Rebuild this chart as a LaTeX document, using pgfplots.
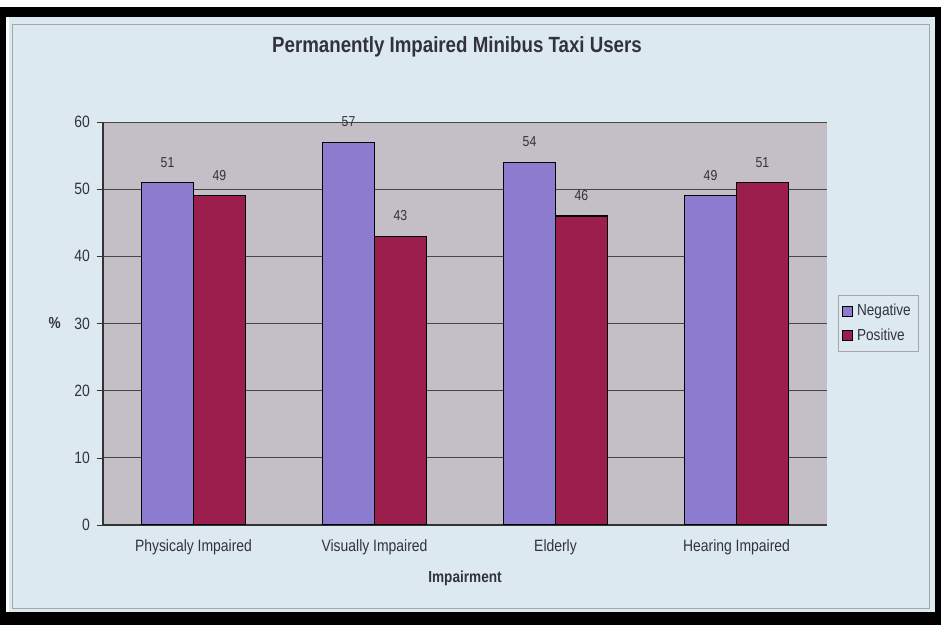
\documentclass[border=0pt]{standalone}
\usepackage{pgfplots}
\pgfplotsset{compat=1.18}
\usepackage{fontspec}
\setmainfont{Liberation Sans}[FakeStretch=0.85]
\definecolor{chartbg}{RGB}{221,233,241}
\definecolor{plotbg}{RGB}{196,190,198}
\definecolor{negc}{RGB}{140,124,208}
\definecolor{posc}{RGB}{155,30,76}
\definecolor{txt}{RGB}{50,50,60}
\begin{document}
\begin{tikzpicture}[x=1pt,y=1pt]
% whole picture: px (x,y) -> ((x-103)/2, (525-y)/2)
\fill[white] (-51.5,-50) rectangle (419,262.5);
\fill[chartbg] (-47,-44) rectangle (416,254);
\draw[gray!70,line width=0.5pt] (-45,-42) rectangle (413,250);
\fill[black] (-51.5,254) rectangle (419,259);
\fill[black] (-51.5,-50) rectangle (419,-43.5);
\fill[black] (-51.5,-50) rectangle (-48.5,259);
\fill[black] (416,-50) rectangle (419,259);
\begin{axis}[
  at={(0,0)}, anchor=south west,
  scale only axis, width=362pt, height=201.5pt,
  xmin=-0.5, xmax=3.5, ymin=0, ymax=60,
  /pgf/number format/assume math mode=true,
  axis background/.style={fill=plotbg},
  axis line style={draw=gray!40!black, line width=0.6pt},
  axis x line*=bottom, axis y line*=left,
  xtick={0,1,2,3},
  xticklabels={Physicaly Impaired,Visually Impaired,Elderly,Hearing Impaired},
  ytick={0,10,...,60},
  extra x ticks={-0.5,0.5,1.5,2.5,3.5},
  extra x tick labels={},
  extra x tick style={major tick length=3pt, tick align=outside, grid=none},
  major x tick style={draw=none},
  major tick length=3pt, tick align=outside,
  ytick style={draw=gray!40!black},
  ymajorgrids, grid style={draw=gray!55!black, line width=0.4pt},
  tick label style={font=\fontsize{8.2}{9}\selectfont, text=txt},
  xticklabel style={yshift=-1pt},
  xlabel={\bfseries Impairment}, xlabel style={font=\fontsize{8}{9}\selectfont, text=txt, yshift=5pt},
  ylabel={\%}, ylabel style={font=\fontsize{8}{9}\selectfont\bfseries, text=txt, rotate=-90, yshift=0pt},
  title={\bfseries Permanently Impaired Minibus Taxi Users},
  title style={font=\fontsize{11}{12}\selectfont, text=txt, yshift=23pt, xshift=-4pt},
  ybar, bar width=0.287,
  nodes near coords,
  nodes near coords style={font=\fontsize{7.2}{8}\selectfont, text=txt, yshift=4pt},
  legend style={at={(1.015,0.5)}, anchor=west, fill=chartbg, draw=gray!70,
    font=\fontsize{8}{9}\selectfont, text=txt, row sep=1pt, inner sep=2pt,
    legend cell align=left},
  legend image code/.code={\draw[#1, draw=black, line width=0.4pt] (0pt,-2.5pt) rectangle (5pt,2.5pt);},
]
\addplot[fill=negc, draw=black, line width=0.6pt, bar shift=-0.1435] coordinates {(0,51) (1,57) (2,54) (3,49)};
\addplot[fill=posc, draw=black, line width=0.6pt, bar shift=0.1435] coordinates {(0,49) (1,43) (2,46) (3,51)};
\legend{Negative,Positive}
\end{axis}
\end{tikzpicture}
\end{document}
